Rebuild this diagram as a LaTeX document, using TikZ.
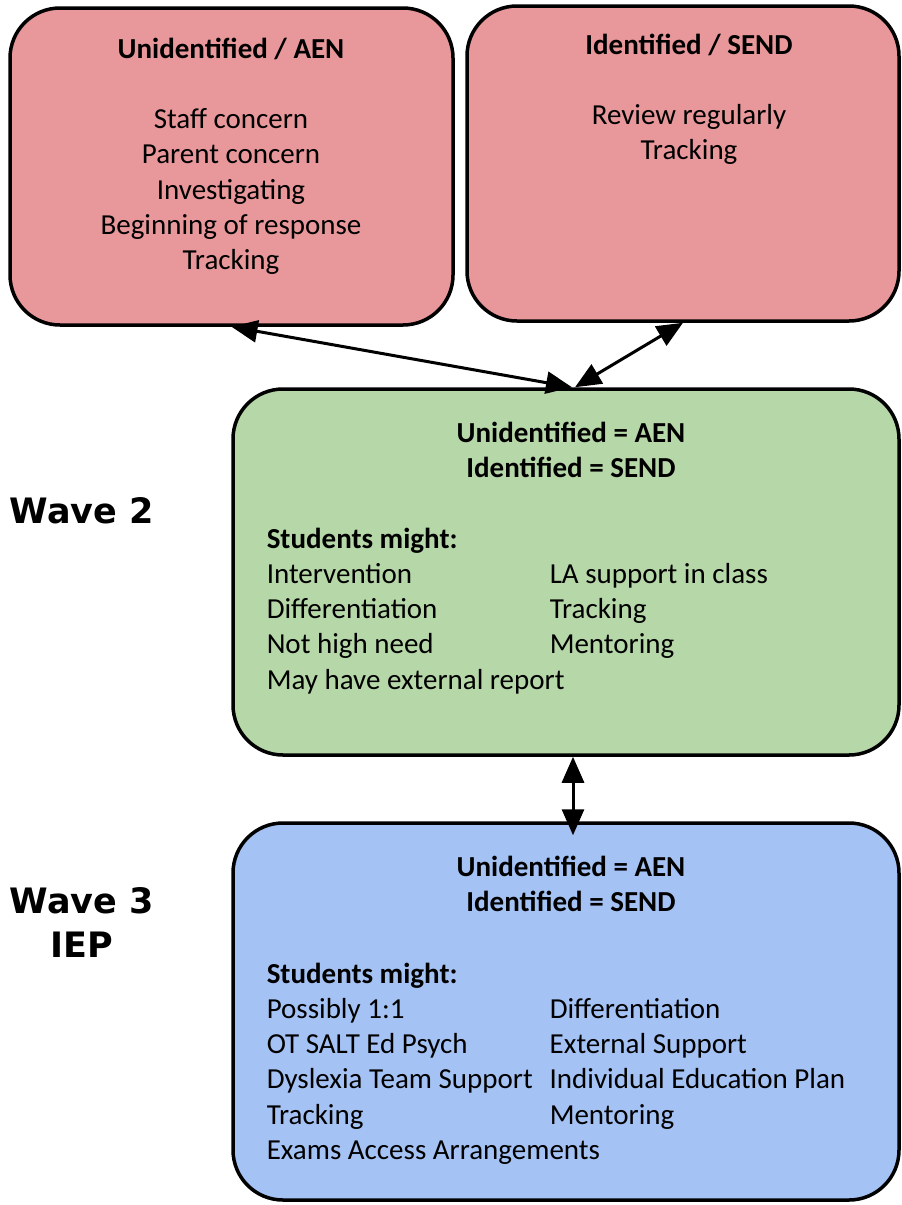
\documentclass[tikz,border=0pt]{standalone}
\usepackage{fontspec}
\setmainfont{Carlito}
\newfontfamily\wavefont{DejaVu Sans}
\usetikzlibrary{arrows.meta}
\definecolor{aenred}{HTML}{E8989A}
\definecolor{wavegreen}{HTML}{B6D7A8}
\definecolor{waveblue}{HTML}{A4C2F4}

\begin{document}
\begin{tikzpicture}[x=1pt,y=-1pt,line width=3.5pt,
	box node/.style={draw,rounded corners=50pt,inner sep=0pt},
	text node/.style={inner sep=0pt,anchor=base,font=\fontsize{29}{35.25}\selectfont},
	list node/.style={text node,anchor=base west},
	wave node/.style={inner sep=0pt,anchor=base,font=\wavefont\fontsize{35}{44}\selectfont\bfseries},
	link/.style={{Triangle[length=26pt,width=22pt]}-{Triangle[length=26pt,width=22pt]},line width=3pt}]
				\useasboundingbox (0,0) rectangle (902,1205);

				% boxes
				\node[box node,fill=aenred,minimum width=443pt,minimum height=317pt] (aen) at (231.5,166.5) {};
				\node[box node,fill=aenred,minimum width=432pt,minimum height=315pt] (send) at (683,163.5) {};
				\node[box node,fill=wavegreen,minimum width=666pt,minimum height=366pt] (wavetwo) at (566,572) {};
				\node[box node,fill=waveblue,minimum width=666pt,minimum height=377pt] (wavethree) at (566,1011.5) {};

				% texts
				\node[text node] (aentext) at (231,58) {\begin{tabular}[t]{@{}c@{}}
					\bfseries Unidentified / AEN\\ \\
					Staff concern\\ Parent concern\\ Investigating\\ Beginning of response\\ Tracking
				\end{tabular}};
				\node[text node] (sendtext) at (689,54) {\begin{tabular}[t]{@{}c@{}}
					\bfseries Identified / SEND\\ \\
					Review regularly\\ Tracking
				\end{tabular}};

				\node[text node] (twohead) at (571,442) {\begin{tabular}[t]{@{}c@{}}
					\bfseries Unidentified = AEN\\ \bfseries Identified = SEND
				\end{tabular}};
				\node[list node] (twolist) at (265,548) {\begin{tabular}[t]{@{}p{283pt}@{}l@{}}
					\multicolumn{2}{@{}l@{}}{\bfseries Students might:}\\
					Intervention & LA support in class\\
					Differentiation & Tracking\\
					Not high need & Mentoring\\
					\multicolumn{2}{@{}l@{}}{May have external report}
				\end{tabular}};

				\node[text node] (threehead) at (571,876) {\begin{tabular}[t]{@{}c@{}}
					\bfseries Unidentified = AEN\\ \bfseries Identified = SEND
				\end{tabular}};
				\node[list node] (threelist) at (265,983) {\begin{tabular}[t]{@{}p{283pt}@{}l@{}}
					\multicolumn{2}{@{}l@{}}{\bfseries Students might:}\\
					Possibly 1:1 & Differentiation\\
					OT SALT Ed Psych & External Support\\
					Dyslexia Team Support & Individual Education Plan\\
					Tracking & Mentoring\\
					\multicolumn{2}{@{}l@{}}{Exams Access Arrangements}
				\end{tabular}};

				\node[wave node] (wavetwolabel) at (82,523) {Wave 2};
				\node[wave node] (wavethreelabel) at (82,913) {\begin{tabular}[t]{@{}c@{}}Wave 3\\ IEP\end{tabular}};

				% links
				\draw[link] (aen.south) -- ([xshift=6pt]wavetwo.north);
				\draw[link] (send.south) -- ([xshift=9pt]wavetwo.north);
				\draw[link] ([xshift=7pt]wavetwo.south) -- ([xshift=7pt,yshift=-14pt]wavethree.north);

			\end{tikzpicture}
\end{document}
